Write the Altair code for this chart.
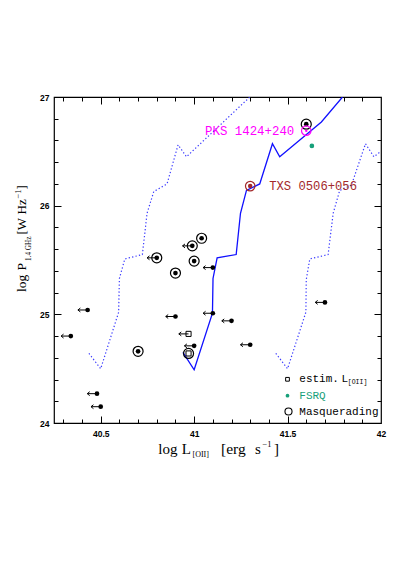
import altair as alt
import pandas as pd

# ---------------- data ----------------
# ordinary radio galaxies (black dots)
dot_x = [40.80, 40.99, 41.04, 41.00, 40.90, 41.10, 40.43, 40.34, 40.90, 41.10,
         41.00, 40.70, 40.48, 40.50, 41.20, 41.30, 41.70, 41.60]
dot_y = [25.52, 25.63, 25.70, 25.49, 25.38, 25.43, 25.04, 24.80, 24.98, 25.01,
         24.71, 24.66, 24.27, 24.15, 24.94, 24.72, 25.11, 26.75]
dot_limit = [1, 1, 0, 0, 0, 1, 1, 1, 1, 1, 1, 0, 1, 1, 1, 1, 1, 0]
dot_masq = [1, 1, 1, 1, 1, 0, 0, 0, 0, 0, 0, 1, 0, 0, 0, 0, 0, 1]

# estimated L[OII] (open squares)
sq_x = [40.97, 40.97]
sq_y = [24.82, 24.64]
sq_limit = [1, 0]
sq_masq = [0, 1]

# FSRQ
fsrq_x = [41.63]
fsrq_y = [26.55]

# named sources
pks_x = [41.60]
pks_y = [26.69]
pks_name = ["PKS 1424+240"]
txs_x = [41.30]
txs_y = [26.18]
txs_name = ["TXS 0506+056"]

# blue correlation (solid) and its scatter (dotted)
solid_x = [40.94, 41.00, 41.098, 41.101, 41.123, 41.225, 41.248, 41.280, 41.351,
           41.419, 41.458, 41.681, 41.794]
solid_y = [24.65, 24.49, 25.01, 25.33, 25.52, 25.55, 25.93, 26.14, 26.20,
           26.57, 26.45, 26.77, 27.00]
dotl_x = [40.437, 40.50, 40.596, 40.60, 40.629, 40.723, 40.748, 40.784, 40.855,
          40.914, 40.959, 41.298]
dotl_y = [24.64, 24.50, 25.02, 25.33, 25.51, 25.55, 25.93, 26.13, 26.20,
          26.56, 26.45, 27.00]
dotr_x = [41.437, 41.50, 41.598, 41.60, 41.619, 41.717, 41.744, 41.779, 41.842,
          41.917, 41.962, 42.00]
dotr_y = [24.64, 24.50, 25.02, 25.32, 25.51, 25.55, 25.93, 26.14, 26.19,
          26.57, 26.45, 26.50]

x_labels = [40.5, 41, 41.5, 42]
y_labels = [24, 25, 26, 27]
x_minor = [40.3, 40.4, 40.6, 40.7, 40.8, 40.9, 41.1, 41.2, 41.3, 41.4,
           41.6, 41.7, 41.8, 41.9]
x_major = [40.5, 41.0, 41.5]
y_minor = [24.2, 24.4, 24.6, 24.8, 25.2, 25.4, 25.6, 25.8, 26.2, 26.4, 26.6, 26.8]
y_major = [25, 26]

legend_labels = ["estim.", "L", "FSRQ", "Masquerading"]
legend_sub = "[OII]"

# ---------------- layout ----------------
W, H = 327, 326
PAD = {"left": 46, "top": 89, "right": 26, "bottom": 150}
OX, OY = 8 + PAD["left"], 8 + PAD["top"]

xs = alt.Scale(domain=[40.25, 42], nice=False, zero=False)
ys = alt.Scale(domain=[24, 27], nice=False, zero=False)

BLUE = "#1010ff"
DOTBLUE = "#3a3aff"
GREEN = "#17a07a"
MAGENTA = "#ff00ff"
BROWN = "#a3292b"

dots = pd.DataFrame({"x": dot_x, "y": dot_y, "lim": dot_limit, "masq": dot_masq})
sqs = pd.DataFrame({"x": sq_x, "y": sq_y, "lim": sq_limit, "masq": sq_masq})
allpts = pd.concat([dots, sqs], ignore_index=True)
solid_df = pd.DataFrame({"x": solid_x, "y": solid_y, "i": range(len(solid_x))})
dotl_df = pd.DataFrame({"x": dotl_x, "y": dotl_y, "i": range(len(dotl_x))})
dotr_df = pd.DataFrame({"x": dotr_x, "y": dotr_y, "i": range(len(dotr_x))})
fsrq_df = pd.DataFrame({"x": fsrq_x, "y": fsrq_y})
pks_df = pd.DataFrame({"x": pks_x, "y": pks_y, "name": pks_name})
txs_df = pd.DataFrame({"x": txs_x, "y": txs_y, "name": txs_name})


def X(field="x", axis=None):
    return alt.X(f"{field}:Q", scale=xs, axis=axis)


def Y(field="y", axis=None):
    return alt.Y(f"{field}:Q", scale=ys, axis=axis)


# lines
line_solid = alt.Chart(solid_df).mark_line(color=BLUE, strokeWidth=1.3, clip=True).encode(
    x=X(), y=Y(), order="i:Q")
line_l = alt.Chart(dotl_df).mark_line(color=DOTBLUE, strokeWidth=1.2, strokeDash=[1.3, 2.2], clip=True).encode(
    x=X(), y=Y(), order="i:Q")
line_r = alt.Chart(dotr_df).mark_line(color=DOTBLUE, strokeWidth=1.2, strokeDash=[1.3, 2.2], clip=True).encode(
    x=X(), y=Y(), order="i:Q")

# upper-limit arrows
lim_base = alt.Chart(allpts).transform_filter("datum.lim == 1").transform_calculate(x2="datum.x - 0.052")
arrow_line = lim_base.mark_rule(color="black", strokeWidth=1).encode(
    x=X(), x2="x2:Q", y=Y())
arrow_head = lim_base.mark_point(shape="M 1 -0.8 L 0 0 L 1 0.8", filled=False, color="black",
                                 strokeWidth=1, size=24, opacity=1).encode(x=X("x2"), y=Y())

# masquerading rings
rings = alt.Chart(allpts).transform_filter("datum.masq == 1").mark_point(
    shape="circle", filled=False, color="black", strokeWidth=1.2, size=100, opacity=1).encode(x=X(), y=Y())

dots_l = alt.Chart(dots).mark_circle(color="black", size=22, opacity=1).encode(x=X(), y=Y())
squares = alt.Chart(sqs).mark_point(shape="square", filled=False, color="black", strokeWidth=1,
                                    size=26, opacity=1).encode(x=X(), y=Y())
fsrq = alt.Chart(fsrq_df).mark_circle(color=GREEN, size=22, opacity=1).encode(x=X(), y=Y())

pks_ring = alt.Chart(pks_df).mark_point(shape="circle", filled=False, color=MAGENTA, strokeWidth=1.2,
                                        size=90, opacity=1).encode(x=X(), y=Y())
pks_dot = alt.Chart(pks_df).mark_circle(color=MAGENTA, size=6, opacity=1).encode(x=X(), y=Y())
pks_lab = alt.Chart(pks_df).mark_text(align="right", baseline="middle", dx=-12, font="Liberation Mono",
                                      fontSize=12.4, color=MAGENTA).encode(x=X(), y=Y(), text="name:N")
txs_ring = alt.Chart(txs_df).mark_point(shape="circle", filled=False, color=BROWN, strokeWidth=1.2,
                                        size=90, opacity=1).encode(x=X(), y=Y())
txs_dot = alt.Chart(txs_df).mark_circle(color=BROWN, size=20, opacity=1).encode(x=X(), y=Y())
txs_lab = alt.Chart(txs_df).mark_text(align="left", baseline="middle", dx=19, font="Liberation Mono",
                                      fontSize=12.2, color=BROWN).encode(x=X(), y=Y(), text="name:N")


# ---------------- free text pieces (page coordinates) ----------------
def piece(txt, px, py, size, font="Liberation Serif", color="black", angle=0,
          baseline="alphabetic", weight="normal"):
    return alt.Chart(pd.DataFrame({"t": [txt]})).mark_text(
        align="left", baseline=baseline, font=font, fontSize=size, angle=angle,
        color=color, fontWeight=weight).encode(
        x=alt.value(px - OX), y=alt.value(py - OY), text="t:N")


titles = [
    # x title: log L_[OII] [erg s^-1]
    piece("log", 158.3, 454, 15), piece("L", 181.7, 454, 15),
    piece(legend_sub, 192.5, 457, 8),
    piece("[erg", 221, 454, 15.5), piece("s", 255, 454, 15),
    piece("\u22121", 262.5, 446.5, 8.5), piece("]", 274, 454, 15),
    # y title: log P_1.4 GHz [W Hz^-1]
    piece("log", 26, 292, 13.5, angle=270), piece("P", 26, 270.5, 13.5, angle=270),
    piece("1.4 GHz", 30.5, 261, 7.2, angle=270),
    piece("[W", 26, 234.5, 13, angle=270), piece("Hz", 26, 214.5, 13, angle=270),
    piece("\u22121", 20.5, 198.5, 8.5, angle=270), piece("]", 26, 189.5, 13, angle=270),
]

# legend (drawn inside plot)
leg_sym_x = 287.5 - OX
leg_y = [379.3, 395.7, 411.5]
leg_sq = alt.Chart(pd.DataFrame({"a": [0]})).mark_point(shape="square", filled=False, color="black",
                                                         strokeWidth=1, size=14, opacity=1).encode(
    x=alt.value(leg_sym_x), y=alt.value(leg_y[0] - OY))
leg_gr = alt.Chart(pd.DataFrame({"a": [0]})).mark_circle(color=GREEN, size=14, opacity=1).encode(
    x=alt.value(leg_sym_x), y=alt.value(leg_y[1] - OY))
leg_ci = alt.Chart(pd.DataFrame({"a": [0]})).mark_point(shape="circle", filled=False, color="black",
                                                         strokeWidth=1.1, size=50, opacity=1).encode(
    x=alt.value(leg_sym_x + 1), y=alt.value(leg_y[2] - OY))
legend = [
    leg_sq, leg_gr, leg_ci,
    piece(legend_labels[0], 299.3, leg_y[0], 11, font="Liberation Mono", baseline="middle"),
    piece(legend_labels[1], 341.5, leg_y[0], 11, font="Liberation Mono", baseline="middle"),
    piece(legend_sub, 347.8, leg_y[0] + 2.5, 6.5, font="Liberation Mono", baseline="middle"),
    piece(legend_labels[2], 299.3, leg_y[1], 11, font="Liberation Mono", baseline="middle", color=GREEN),
    piece(legend_labels[3], 299.3, leg_y[2], 11, font="Liberation Mono", baseline="middle"),
]


# ---------------- axes (labels outside, ticks inside on all four sides) ----------------
def axis_layer(xaxis, yaxis):
    return alt.Chart(solid_df).mark_point(opacity=0).encode(x=X(axis=xaxis), y=Y(axis=yaxis))


lab_common = dict(domain=False, ticks=False, tickSize=0, grid=False, title=None,
                  labelFont="Liberation Sans", labelFontWeight="bold", labelFontSize=8.5,
                  labelColor="black", labelFlush=False, labelOverlap=False)
tick_common = dict(domain=False, labels=False, grid=False, title=None, tickColor="black",
                   tickWidth=1)

ax_labels = axis_layer(
    alt.Axis(orient="bottom", values=x_labels, format=".1~f", labelPadding=6, **lab_common),
    alt.Axis(orient="left", values=y_labels, format="d", labelPadding=5, **lab_common))
ax_in1 = axis_layer(
    alt.Axis(orient="top", offset=-H, values=x_minor, tickSize=4, **tick_common),
    alt.Axis(orient="right", offset=-W, values=y_minor, tickSize=4, **tick_common))
ax_in2 = axis_layer(
    alt.Axis(orient="bottom", offset=-H, values=x_minor, tickSize=4, **tick_common),
    alt.Axis(orient="left", offset=-W, values=y_minor, tickSize=4, **tick_common))
ax_in3 = axis_layer(
    alt.Axis(orient="top", offset=-H, values=x_major, tickSize=7, **tick_common),
    alt.Axis(orient="right", offset=-W, values=y_major, tickSize=7, **tick_common))
ax_in4 = axis_layer(
    alt.Axis(orient="bottom", offset=-H, values=x_major, tickSize=7, **tick_common),
    alt.Axis(orient="left", offset=-W, values=y_major, tickSize=7, **tick_common))

chart = alt.layer(
    ax_labels, ax_in1, ax_in2, ax_in3, ax_in4,
    line_l, line_r, line_solid,
    arrow_line, arrow_head, rings, dots_l, squares, fsrq,
    pks_ring, pks_dot, pks_lab, txs_ring, txs_dot, txs_lab,
    *legend, *titles,
).resolve_axis(x="independent", y="independent").properties(
    width=W, height=H, padding=PAD, autosize=alt.AutoSizeParams(type="none"),
    background="white",
).configure_view(stroke="black", strokeWidth=1.2).configure_axis(grid=False)

chart.save("out.html", embed_options={"renderer": "svg", "actions": False})
